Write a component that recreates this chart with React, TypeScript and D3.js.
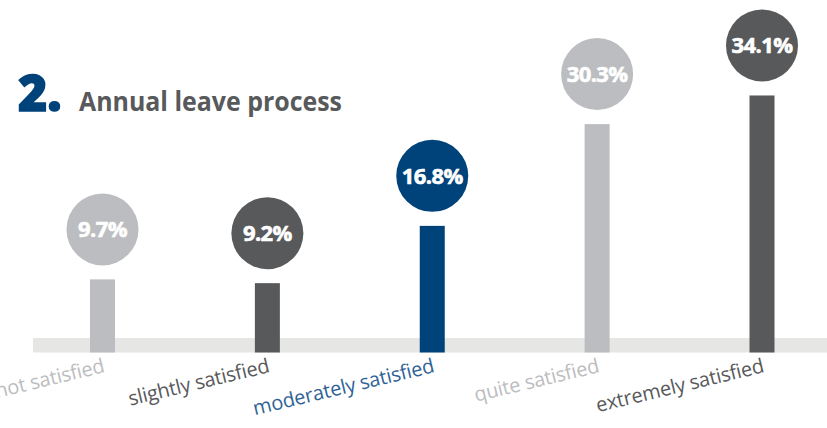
import React from "react";
import * as d3 from "d3";

const categories = [
  "not satisfied",
  "slightly satisfied",
  "moderately satisfied",
  "quite satisfied",
  "extremely satisfied",
];
const values = [9.7, 9.2, 16.8, 30.3, 34.1];
const valueLabels = ["9.7%", "9.2%", "16.8%", "30.3%", "34.1%"];
const fillColors = ["#bcbdc0", "#58595b", "#00427a", "#bcbdc0", "#58595b"];
const labelColors = ["#bcbdc0", "#58595b", "#2f6396", "#bcbdc0", "#58595b"];
const titleNumber = "2.";
const titleText = "Annual leave process";

const W = 827;
const H = 428;

export default function App() {
  const x = d3.scalePoint<string>().domain(categories).range([102.5, 762]);
  const y = d3.scaleLinear().domain([0, 40]).range([352.5, 51]);
  const barW = 25;
  const r = 36;
  const circleGap = 50;
  const labelY = 372;

  return (
    <svg
      width={W}
      height={H}
      viewBox={`0 0 ${W} ${H}`}
      style={{ position: "absolute", left: 0, top: 0, background: "#fff" }}
    >
      <rect x={0} y={0} width={W} height={H} fill="#fff" />
      <rect x={33} y={338} width={W - 33} height={y(0) - 338} fill="#e6e6e4" />
      {categories.map((c, i) => {
        const cx = x(c) as number;
        const top = y(values[i]);
        const cy = top - circleGap;
        return (
          <g key={c}>
            <rect
              x={cx - barW / 2}
              y={top}
              width={barW}
              height={y(0) - top}
              fill={fillColors[i]}
            />
            <circle cx={cx} cy={cy} r={r} fill={fillColors[i]} />
            <text
              x={cx}
              y={cy}
              dy="0.36em"
              textAnchor="middle"
              fill="#fff"
              stroke="#fff"
              strokeWidth={0.6}
              fontFamily="'Open Sans', sans-serif"
              fontWeight={700}
              fontSize={22}
              letterSpacing={-0.6}
            >
              {valueLabels[i]}
            </text>
            <text
              transform={`translate(${cx + 3},${labelY}) rotate(-13.5)`}
              textAnchor="end"
              fill={labelColors[i]}
              fontFamily="'Open Sans', sans-serif"
              fontWeight={400}
              fontSize={20}
              letterSpacing={-0.2}
            >
              {c}
            </text>
          </g>
        );
      })}
      <text
        x={18}
        y={111}
        fill="#00427a"
        stroke="#00427a"
        strokeWidth={1.4}
        fontFamily="'Open Sans', sans-serif"
        fontWeight={800}
        fontSize={50}
        letterSpacing={0}
      >
        {titleNumber}
      </text>
      <text
        x={79}
        y={111}
        fill="#58595b"
        fontFamily="'Open Sans', sans-serif"
        fontWeight={700}
        fontSize={26}
        textLength={263}
        lengthAdjust="spacingAndGlyphs"
      >
        {titleText}
      </text>
    </svg>
  );
}
